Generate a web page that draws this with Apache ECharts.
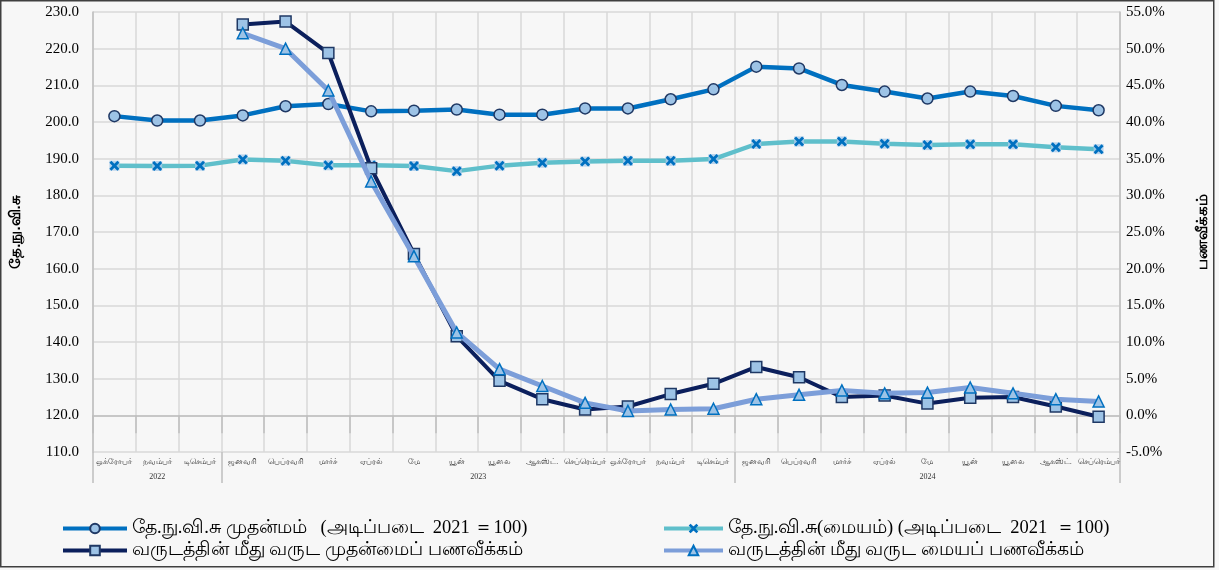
<!DOCTYPE html>
<html><head><meta charset="utf-8">
<script src="https://cdn.jsdelivr.net/npm/echarts@6/dist/echarts.min.js"></script>
<style>html,body{margin:0;padding:0;background:#f7f7f7}#c{width:1219px;height:570px}</style>
</head><body><div id="c"></div>
<script>
const months = ['ஒக்ரோபர்','நவம்பர்','டிசெம்பர்','ஜனவரி','பெப்ரவரி','மார்ச்','ஏப்ரல்','மே','யூன்','யூலை','ஆகஸ்ட்.','செப்ரெம்பர்',
  'ஒக்ரோபர்','நவம்பர்','டிசெம்பர்','ஜனவரி','பெப்ரவரி','மார்ச்','ஏப்ரல்','மே','யூன்','யூலை','ஆகஸ்ட்.','செப்ரெம்பர்'];
const years = ['2022','2023','2024'];
const yearStart = [0,3,15];
const yearEnd = [3,15,24];
const ncpiHeadline = [201.6,200.4,200.4,201.8,204.3,204.9,202.9,203.1,203.4,202.0,202.0,203.7,203.7,206.2,208.9,215.1,214.6,210.1,208.3,206.4,208.3,207.1,204.4,203.2];
const ncpiCore = [188.1,188.0,188.1,189.8,189.4,188.2,188.2,188.0,186.6,188.1,188.9,189.2,189.4,189.4,189.9,194.0,194.7,194.7,194.1,193.7,193.9,193.9,193.1,192.6];
const yoyHeadline = [null,null,null,53.3,53.7,49.4,33.7,22.0,10.8,4.7,2.2,0.8,1.2,2.9,4.3,6.6,5.2,2.5,2.7,1.6,2.4,2.5,1.2,-0.2];
const yoyCore = [null,null,null,52.1,50.0,44.3,31.9,21.7,11.3,6.3,4.0,1.7,0.6,0.8,0.9,2.2,2.8,3.4,3.0,3.1,3.8,3.0,2.2,1.9];
const names = ['தே.நு.வி.சு முதன்மம்   (அடிப்படை  2021 ＝100)','தே.நு.வி.சு(மையம்) (அடிப்படை  2021  ＝100)','வருடத்தின் மீது வருட முதன்மைப் பணவீக்கம்','வருடத்தின் மீது வருட மையப் பணவீக்கம்'];

const chart = echarts.init(document.getElementById('c'));
const serif = "'Liberation Serif','Times New Roman',serif";
const grid = '#d9d9d9';
const xPath = 'path://M0,2 L2,0 L5,3 L8,0 L10,2 L7,5 L10,8 L8,10 L5,7 L2,10 L0,8 L3,5 Z';
chart.setOption({
  backgroundColor:'#f7f7f7',
  animation:false,
  grid:{left:93,right:99,top:12,bottom:118},
  graphic:[{type:'rect',shape:{x:0.75,y:0.75,width:1213,height:566},style:{fill:'none',stroke:'#404040',lineWidth:1.5},silent:true}],
  legend:[
    {left:56,top:514,orient:'vertical',itemWidth:64,itemHeight:12,itemGap:3,data:[names[0],names[2]],
      lineStyle:{width:4},
      textStyle:{fontFamily:serif,fontSize:18.5,color:'#000'}},
    {left:657,top:514,orient:'vertical',itemWidth:59,itemHeight:12,itemGap:3,data:[names[1],names[3]],
      lineStyle:{width:4},
      textStyle:{fontFamily:serif,fontSize:18.5,color:'#000'}}
  ],
  xAxis:[
    {type:'category',data:months,boundaryGap:true,
      axisLine:{lineStyle:{color:'#bfbfbf',width:1.5}},
      axisTick:{show:true,interval:0,length:18,lineStyle:{color:'#bfbfbf',width:1.5}},
      axisLabel:{interval:0,fontSize:7.5,color:'#333',margin:6},
      splitLine:{show:true,interval:0,lineStyle:{color:grid,width:1.5}}},
    {type:'value',min:0,max:24,position:'bottom',
      axisLine:{show:false},
      axisTick:{show:true,customValues:[0,3,15,24],length:31,lineStyle:{color:'#bfbfbf',width:1.5}},
      axisLabel:{customValues:yearStart.map((s,i)=>(s+yearEnd[i])/2),margin:21,fontSize:8,fontFamily:serif,color:'#333',
        formatter:v=>{const i=yearStart.findIndex((s,k)=>(s+yearEnd[k])/2===v);return i>=0?years[i]:'';}},
      splitLine:{show:false}}
  ],
  yAxis:[
    {type:'value',min:110,max:230,interval:10,
      name:'தே.நு.வி.சு',nameLocation:'middle',nameRotate:90,nameGap:70,
      nameTextStyle:{fontWeight:'bold',fontSize:15,color:'#000'},
      axisLine:{show:true,lineStyle:{color:'#bfbfbf',width:1.5}},axisTick:{show:false},
      axisLabel:{formatter:v=>v.toFixed(1),fontFamily:serif,fontSize:15,color:'#000',margin:14},
      splitLine:{lineStyle:{color:grid,width:1.5}}},
    {type:'value',min:-5,max:55,interval:5,
      name:'பணவீக்கம்',nameLocation:'middle',nameRotate:90,nameGap:75,
      nameTextStyle:{fontWeight:'bold',fontSize:15,color:'#000'},
      axisLine:{show:true,lineStyle:{color:'#bfbfbf',width:1.5}},axisTick:{show:false},
      axisLabel:{formatter:v=>v.toFixed(1)+'%',fontFamily:serif,fontSize:15,color:'#000',margin:6},
      splitLine:{show:false}}
  ],
  series:[
    {name:names[0],type:'line',data:ncpiHeadline,yAxisIndex:0,symbol:'circle',symbolSize:11,
      lineStyle:{color:'#0070C0',width:4.5},itemStyle:{color:'#9DC3E6',borderColor:'#1F3864',borderWidth:1.5},z:3},
    {name:'coreMarkerBg',type:'scatter',data:ncpiCore,yAxisIndex:0,symbol:'rect',symbolSize:10,
      itemStyle:{color:'#A9CBEA'},z:2,silent:true},
    {name:names[1],type:'line',data:ncpiCore,yAxisIndex:0,symbol:xPath,symbolSize:10,
      lineStyle:{color:'#5FBFCB',width:4.5},itemStyle:{color:'#0070C0'},z:2},
    {name:names[2],type:'line',data:yoyHeadline,yAxisIndex:1,symbol:'rect',symbolSize:11,
      lineStyle:{color:'#0B1F5C',width:4},itemStyle:{color:'#9DC3E6',borderColor:'#1F3864',borderWidth:1.5},z:4},
    {name:names[3],type:'line',data:yoyCore,yAxisIndex:1,symbol:'triangle',symbolSize:11,
      lineStyle:{color:'#7C9ED9',width:5},itemStyle:{color:'#9DC3E6',borderColor:'#0070C0',borderWidth:1.5},z:5}
  ]
});
</script></body></html>
